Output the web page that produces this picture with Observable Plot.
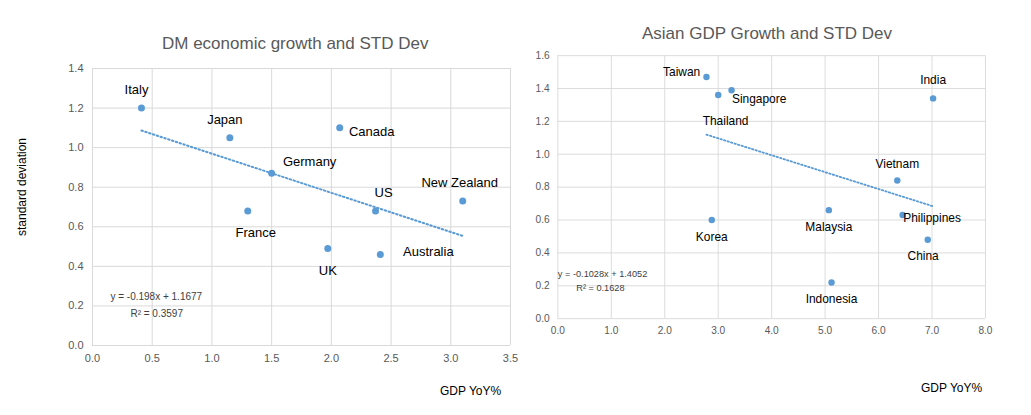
<!DOCTYPE html>
<html><head><meta charset="utf-8">
<script src="https://cdn.jsdelivr.net/npm/d3@7"></script>
<script src="https://cdn.jsdelivr.net/npm/@observablehq/plot@0.6"></script>
<style>
body{margin:0;background:#fff;font-family:"Liberation Sans",Arial,sans-serif}
#wrap{position:relative;width:1031px;height:415px}
.ch{position:absolute;top:0}
.t{position:absolute;font-size:17px;color:#595959;white-space:nowrap}
.ax{position:absolute;font-size:12px;color:#000}
</style></head><body>
<div id="wrap">
 <div class="ch" id="c1" style="left:0"></div>
 <div class="ch" id="c2" style="left:516px"></div>
 <div class="t" style="left:162px;top:34px">DM economic growth and STD Dev</div>
 <div class="t" style="left:642px;top:24px">Asian GDP Growth and STD Dev</div>
 <div class="ax" style="left:440px;top:384px">GDP YoY%</div>
 <div class="ax" style="left:921px;top:381px">GDP YoY%</div>
 <div class="ax" style="left:14px;top:180px;transform:rotate(-90deg);transform-origin:center;width:120px;margin-left:-52px;text-align:center">standard deviation</div>
</div>
<script>
const dmCountries=["Italy","Japan","Canada","Germany","France","US","New Zealand","UK","Australia"];
const dmGdp=[0.41,1.15,2.07,1.50,1.30,2.37,3.10,1.97,2.41];
const dmStd=[1.20,1.05,1.10,0.87,0.68,0.68,0.73,0.49,0.46];
const dmSlope=-0.198, dmIntercept=1.1677, dmR2="0.3597";

const asCountries=["Taiwan","Thailand","Singapore","India","Vietnam","Malaysia","Philippines","Korea","China","Indonesia"];
const asGdp=[2.78,3.00,3.25,7.02,6.35,5.07,6.45,2.88,6.92,5.12];
const asStd=[1.47,1.36,1.39,1.34,0.84,0.66,0.63,0.60,0.48,0.22];
const asSlope=-0.1028, asIntercept=1.4052, asR2="0.1628";

// label placement [dx, dy]
const dmLab={"Italy":[-5,-18],"Japan":[-5,-18],"Canada":[32,4],"Germany":[38,-12],"France":[8,22],"US":[8,-18],"New Zealand":[-3,-18],"UK":[0,22],"Australia":[48,-3]};
const asLab={"Taiwan":[-27,-5],"Thailand":[8,28],"Singapore":[30,10],"India":[0,-20],"Vietnam":[0,-18],"Malaysia":[0,19],"Philippines":[32,3],"Korea":[0,19],"China":[-5,18],"Indonesia":[0,18]};

function chart(el,names,xs,ys,slope,icpt,r2,eq,xmax,ymax,xstep,ml,mr,mt,mb,lab,eqPos){
  const data=names.map((n,i)=>({n,x:xs[i],y:ys[i],dx:lab[n][0],dy:lab[n][1]}));
  const x0=d3.min(xs),x1=d3.max(xs);
  const fmt=d3.format(".1f");
  const p=Plot.plot({
    width:515+mr-5,height:415,marginLeft:ml,marginRight:mr,marginTop:mt,marginBottom:mb,
    style:{fontFamily:"Liberation Sans, Arial, sans-serif",fontSize:"11px",color:"#595959"},
    x:{domain:[0,xmax],ticks:d3.range(0,xmax+1e-9,xstep),tickFormat:fmt,tickSize:0,label:null},
    y:{domain:[0,ymax],ticks:d3.range(0,ymax+1e-9,0.2),tickFormat:fmt,tickSize:0,label:null},
    marks:[
      Plot.gridY(d3.range(0,ymax+1e-9,0.2),{stroke:"#d9d9d9",strokeOpacity:1}),
      Plot.gridX(d3.range(0,xmax+1e-9,xstep),{stroke:"#d9d9d9",strokeOpacity:1}),
      Plot.line([x0,x1],{x:d=>d,y:d=>slope*d+icpt,stroke:"#5b9bd5",strokeWidth:2,strokeDasharray:"1.5,2.5"}),
      Plot.dot(data,{x:"x",y:"y",r:3.5,fill:"#5b9bd5"}),
      ...data.map(d=>Plot.text([d],{x:"x",y:"y",text:"n",dx:d.dx,dy:d.dy,fontSize:13,fill:"#000"})),
      Plot.text([eq],{x:()=>eqPos[0],y:()=>eqPos[1],text:d=>d,textAnchor:"start",fontSize:10,fill:"#404040"}),
      Plot.text(["R² = "+r2],{x:()=>eqPos[0],y:()=>eqPos[1]-0.085,text:d=>d,dx:20,textAnchor:"start",fontSize:10,fill:"#404040"})
    ]
  });
  document.getElementById(el).appendChild(p);
}
chart("c1",dmCountries,dmGdp,dmStd,dmSlope,dmIntercept,dmR2,"y = -0.198x + 1.1677",3.5,1.4,0.5,92,15,68,70,dmLab,[0.15,0.245]);
chart("c2",asCountries,asGdp,asStd,asSlope,asIntercept,asR2,"y = -0.1028x + 1.4052",8,1.6,1.0,45,50,60,69,asLab,[0.0,0.27]);
</script>
</body></html>
